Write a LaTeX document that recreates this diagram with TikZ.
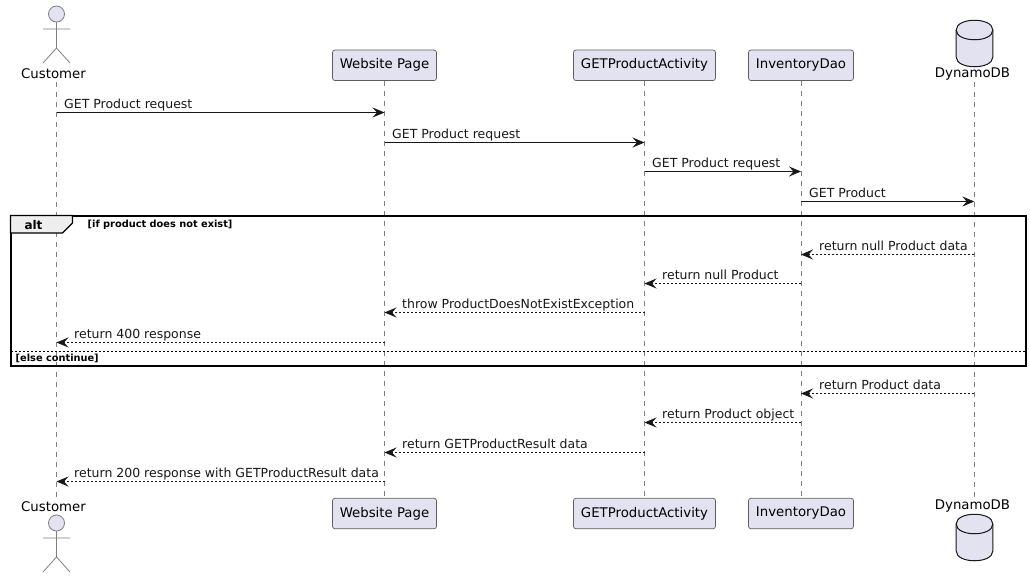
\documentclass[tikz,border=0pt]{standalone}
\usepackage{fontspec}
\setmainfont{DejaVu Sans}
\usetikzlibrary{arrows.meta}
\definecolor{partfill}{HTML}{E2E2F0}
\definecolor{partline}{HTML}{181818}
\definecolor{lifegray}{HTML}{7F7F7F}
\definecolor{tabfill}{HTML}{EEEEEE}
\tikzset{
  part/.style={draw=partline!70!white,fill=partfill,rounded corners=2.5pt,line width=.7pt,minimum height=30.5pt,font=\fontsize{13.3}{16}\selectfont,inner sep=0pt},
  actorname/.style={font=\fontsize{13.3}{16}\selectfont,inner sep=0pt},
  life/.style={draw=lifegray,line width=.6pt,dash pattern=on 5pt off 5pt},
  limb/.style={draw=lifegray,line width=.8pt,fill=partfill},
  call/.style={draw=partline,line width=.9pt,-{Stealth[length=12pt,width=10pt,inset=4.5pt]}},
  back/.style={call,dash pattern=on 2pt off 2pt},
  msg/.style={font=\fontsize{12.5}{14}\selectfont,inner sep=0pt,anchor=base west,text=partline},
  frametext/.style={font=\bfseries\fontsize{9.8}{12}\selectfont,inner sep=0pt,anchor=base west,text=black}
}
\newcommand{\stickman}[2]{% #1 x, #2 y of head centre
  \draw[limb] (#1,#2) circle (8);
  \draw[limb,fill=none] (#1,#2+8)--(#1,#2+34) (#1-13.5,#2+15)--(#1+13.5,#2+15) (#1-13.5,#2+49)--(#1,#2+34)--(#1+13.5,#2+49);
}
\newcommand{\dbcan}[2]{% #1 x centre, #2 y of top
  \draw[draw=partline,line width=1pt,fill=partfill] (#1-18.3,#2+10) .. controls (#1-18.3,#2-3) and (#1+18.3,#2-3) .. (#1+18.3,#2+10) -- (#1+18.3,#2+37) .. controls (#1+18.3,#2+50) and (#1-18.3,#2+50) .. (#1-18.3,#2+37) -- cycle;
  \draw[draw=partline,line width=1pt] (#1-18.3,#2+10) .. controls (#1-18.3,#2+23) and (#1+18.3,#2+23) .. (#1+18.3,#2+10);
}
\begin{document}
\begin{tikzpicture}[x=1pt,y=-1pt]
\useasboundingbox (0,0) rectangle (1030,579);
\fill[white] (0,0) rectangle (1030,579);
% participants, top row
\node[actorname] (Cust) at (53.5,73.5) {Customer};
\node[part,minimum width=104pt] (Page) at (384.5,65.3) {Website Page};
\node[part,minimum width=142pt] (Act) at (644.5,65.3) {GETProductActivity};
\node[part,minimum width=105pt] (Dao) at (801,65.3) {InventoryDao};
\node[actorname] (Dyn) at (972.5,74.5) {DynamoDB};
% participants, bottom row
\node[actorname] (CustB) at (53.5,506.5) {Customer};
\node[part,minimum width=104pt] (PageB) at (384.5,513.5) {Website Page};
\node[part,minimum width=142pt] (ActB) at (644.5,513.5) {GETProductActivity};
\node[part,minimum width=105pt] (DaoB) at (801,513.5) {InventoryDao};
\node[actorname] (DynB) at (972.5,506.5) {DynamoDB};
% ends of the actor lifelines
\coordinate (CustTop) at (56.5,82);
\coordinate (CustEnd) at (56.5,497);
\coordinate (DynTop) at (974.3,82);
\coordinate (DynEnd) at (974.3,497);
% lifelines
\draw[life] (CustTop)--(CustEnd);
\draw[life] (Page.south)--(PageB.north);
\draw[life] (Act.south)--(ActB.north);
\draw[life] (Dao.south)--(DaoB.north);
\draw[life] (DynTop)--(DynEnd);
\stickman{56.5}{14}
\stickman{56.5}{523}
\dbcan{974.5}{20}
\dbcan{974.5}{514}
% alt frame
\draw[line width=2pt,draw=black] (10.5,215.5) rectangle (1025.5,365.5);
\draw[line width=1.3pt,draw=black,fill=tabfill] (10.5,215.5)--(72.5,215.5)--(72.5,223)--(62.5,233)--(10.5,233)--cycle;
\draw[line width=.7pt,dash pattern=on 2pt off 2pt] (10.5,351.5)--(1025.5,351.5);
\node[font=\bfseries\fontsize{12}{14}\selectfont,inner sep=0pt] (altname) at (33.5,225) {alt};
\node[frametext] (ifcase) at (87.5,227.5) {[if product does not exist]};
\node[frametext] (elsecase) at (15.5,361.5) {[else continue]};
% rows
\coordinate (r1) at (0,112.5);
\coordinate (r2) at (0,142.5);
\coordinate (r3) at (0,171.5);
\coordinate (r4) at (0,201.5);
\coordinate (r5) at (0,254.5);
\coordinate (r6) at (0,283.5);
\coordinate (r7) at (0,312.5);
\coordinate (r8) at (0,342.5);
\coordinate (r9) at (0,393.5);
\coordinate (r10) at (0,422.5);
\coordinate (r11) at (0,452.5);
\coordinate (r12) at (0,481.5);
\draw[call] (CustTop |- r1)--(Page |- r1);
\draw[call] (Page |- r2)--(Act |- r2);
\draw[call] (Act |- r3)--(Dao |- r3);
\draw[call] (Dao |- r4)--(DynTop |- r4);
\draw[back] (DynTop |- r5)--(Dao |- r5);
\draw[back] (Dao |- r6)--(Act |- r6);
\draw[back] (Act |- r7)--(Page |- r7);
\draw[back] (Page |- r8)--(CustTop |- r8);
\draw[back] (DynTop |- r9)--(Dao |- r9);
\draw[back] (Dao |- r10)--(Act |- r10);
\draw[back] (Act |- r11)--(Page |- r11);
\draw[back] (Page |- r12)--(CustTop |- r12);
% labels
\node[msg] (m1) at (64,108) {GET Product request};
\node[msg] (m2) at (392,138) {GET Product request};
\node[msg] (m3) at (652,167) {GET Product request};
\node[msg] (m4) at (809,197) {GET Product};
\node[msg] (m5) at (819,250) {return null Product data};
\node[msg] (m6) at (662,279) {return null Product};
\node[msg] (m7) at (402,308) {throw ProductDoesNotExistException};
\node[msg] (m8) at (74,338) {return 400 response};
\node[msg] (m9) at (819,389) {return Product data};
\node[msg] (m10) at (662,418) {return Product object};
\node[msg] (m11) at (402,448) {return GETProductResult data};
\node[msg] (m12) at (74,477) {return 200 response with GETProductResult data};
\end{tikzpicture}
\end{document}
